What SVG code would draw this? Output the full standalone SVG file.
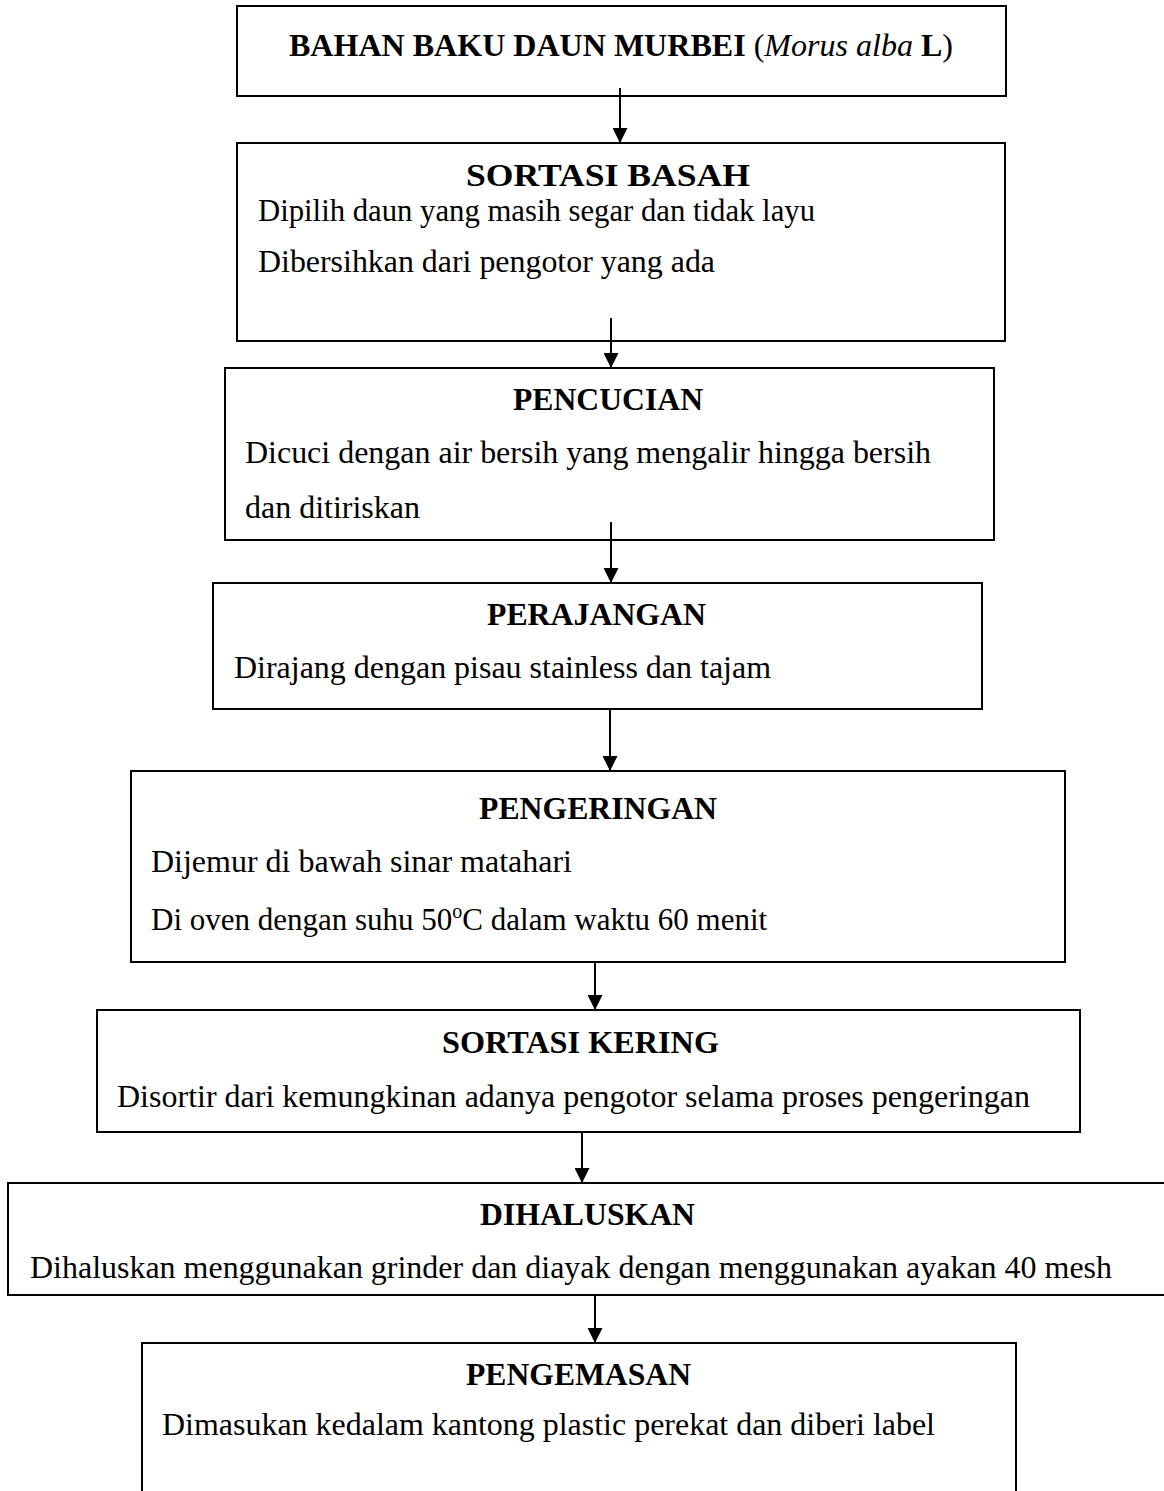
<svg xmlns="http://www.w3.org/2000/svg" width="1164" height="1491" viewBox="0 0 1164 1491">
<style>
.box{fill:#fff;stroke:#000;stroke-width:2}
.t{font-family:"Liberation Serif","Times New Roman",serif;font-size:32px;font-weight:bold;fill:#000}
.b{font-family:"Liberation Serif","Times New Roman",serif;font-size:31px;fill:#000}
.c{stroke:#000;stroke-width:2;fill:none}
</style>
<defs>
<marker id="ah" markerUnits="userSpaceOnUse" markerWidth="15" markerHeight="15" refX="15" refY="7.5" orient="auto" viewBox="0 0 15 15">
<path d="M0,0 L15,7.5 L0,15 z" fill="#000"/>
</marker>
</defs>
<rect width="1164" height="1491" fill="#fff"/>
<g id="n1">
<rect class="box" x="237" y="6" width="769" height="90"/>
<text class="t" x="289" y="56" textLength="664" lengthAdjust="spacingAndGlyphs">BAHAN BAKU DAUN MURBEI <tspan font-weight="normal">(</tspan><tspan font-style="italic" font-weight="normal">Morus alba</tspan> L<tspan font-weight="normal">)</tspan></text>
</g>
<g id="n2">
<rect class="box" x="237" y="143" width="768" height="198"/>
<text class="t" x="466" y="186" textLength="284" lengthAdjust="spacingAndGlyphs">SORTASI BASAH</text>
<text class="b" x="258" y="221" textLength="557" lengthAdjust="spacingAndGlyphs">Dipilih daun yang masih segar dan tidak layu</text>
<text class="b" x="258" y="272" textLength="457" lengthAdjust="spacingAndGlyphs">Dibersihkan dari pengotor yang ada</text>
</g>
<g id="n3">
<rect class="box" x="225" y="368" width="769" height="172"/>
<text class="t" x="513" y="410" textLength="190" lengthAdjust="spacingAndGlyphs">PENCUCIAN</text>
<text class="b" x="245" y="463" textLength="686" lengthAdjust="spacingAndGlyphs">Dicuci dengan air bersih yang mengalir hingga bersih</text>
<text class="b" x="245" y="518" textLength="175" lengthAdjust="spacingAndGlyphs">dan ditiriskan</text>
</g>
<g id="n4">
<rect class="box" x="213" y="583" width="769" height="126"/>
<text class="t" x="487" y="625" textLength="219" lengthAdjust="spacingAndGlyphs">PERAJANGAN</text>
<text class="b" x="234" y="678" textLength="537" lengthAdjust="spacingAndGlyphs">Dirajang dengan pisau stainless dan tajam</text>
</g>
<g id="n5">
<rect class="box" x="131" y="771" width="934" height="191"/>
<text class="t" x="479" y="819" textLength="238" lengthAdjust="spacingAndGlyphs">PENGERINGAN</text>
<text class="b" x="151" y="872" textLength="421" lengthAdjust="spacingAndGlyphs">Dijemur di bawah sinar matahari</text>
<text class="b" x="151" y="930">Di oven dengan suhu 50<tspan font-size="20" dy="-12">o</tspan><tspan dy="12">C dalam waktu 60 menit</tspan></text>
</g>
<g id="n6">
<rect class="box" x="97" y="1010" width="983" height="122"/>
<text class="t" x="442" y="1053" textLength="277" lengthAdjust="spacingAndGlyphs">SORTASI KERING</text>
<text class="b" x="117" y="1107" textLength="913" lengthAdjust="spacingAndGlyphs">Disortir dari kemungkinan adanya pengotor selama proses pengeringan</text>
</g>
<g id="n7">
<rect class="box" x="8" y="1183" width="1162" height="112"/>
<text class="t" x="480" y="1225" textLength="215" lengthAdjust="spacingAndGlyphs">DIHALUSKAN</text>
<text class="b" x="30" y="1278" textLength="1082" lengthAdjust="spacingAndGlyphs">Dihaluskan menggunakan grinder dan diayak dengan menggunakan ayakan 40 mesh</text>
</g>
<g id="n8">
<rect class="box" x="142" y="1343" width="874" height="170"/>
<text class="t" x="466" y="1385" textLength="225" lengthAdjust="spacingAndGlyphs">PENGEMASAN</text>
<text class="b" x="162" y="1435" textLength="773" lengthAdjust="spacingAndGlyphs">Dimasukan kedalam kantong plastic perekat dan diberi label</text>
</g>
<g id="connectors">
<line class="c" x1="620" y1="88" x2="620" y2="143" marker-end="url(#ah)"/>
<line class="c" x1="611" y1="318" x2="611" y2="368" marker-end="url(#ah)"/>
<line class="c" x1="611" y1="522" x2="611" y2="583" marker-end="url(#ah)"/>
<line class="c" x1="610" y1="709" x2="610" y2="771" marker-end="url(#ah)"/>
<line class="c" x1="595" y1="962" x2="595" y2="1010" marker-end="url(#ah)"/>
<line class="c" x1="582" y1="1132" x2="582" y2="1183" marker-end="url(#ah)"/>
<line class="c" x1="595" y1="1295" x2="595" y2="1343" marker-end="url(#ah)"/>
</g>
</svg>
